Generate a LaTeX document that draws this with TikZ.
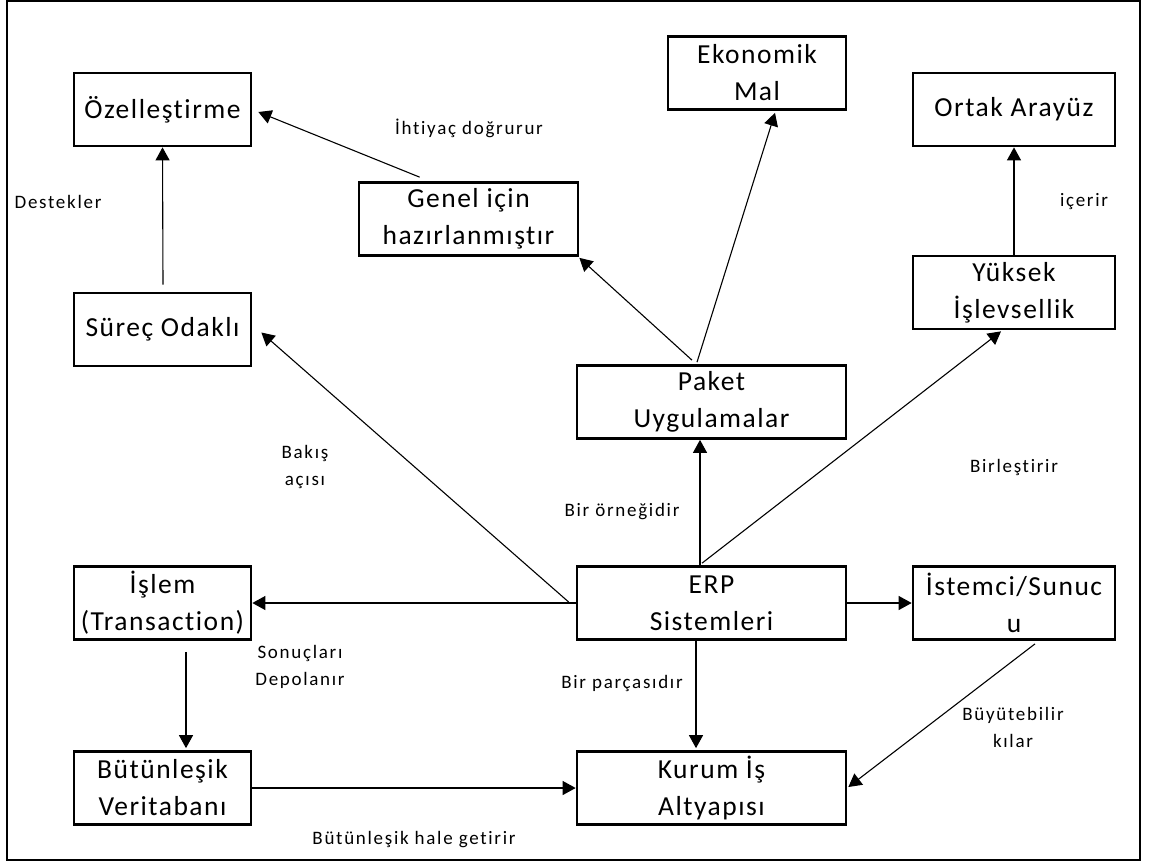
\documentclass[tikz,border=0pt]{standalone}
\usepackage{fontspec}
\setmainfont{Carlito}
\newfontfamily\boxfont[LetterSpace=5.5,Ligatures=NoCommon]{Carlito}
\newfontfamily\lblfont[LetterSpace=9,Ligatures=NoCommon]{Carlito}
\usetikzlibrary{arrows.meta,calc}

\begin{document}
\begin{tikzpicture}[x=1pt,y=-1pt,
  conceptbox/.style={draw, line width=2.7pt, align=center, inner sep=0pt,
    font=\boxfont\fontsize{27.5}{37}\selectfont, minimum height=73pt},
  rel/.style={line width=1.1pt, -{Triangle[length=13pt,width=14pt]}},
  lbl/.style={align=center, inner sep=0pt, font=\lblfont\fontsize{19}{27}\selectfont}]

\useasboundingbox (0,0) rectangle (1150,863);
\draw[line width=2.4pt] (7,1.2) rectangle (1140,860);

% concept boxes
\node[conceptbox, minimum width=177pt] (ozel)    at (162.5,109.5) {Özelleştirme};
\node[conceptbox, minimum width=177pt] (surec)   at (162.5,329.5) {Süreç Odaklı};
\node[conceptbox, minimum width=177pt] (islem)   at (162.5,603)   {İşlem\\(Transaction)};
\node[conceptbox, minimum width=177pt] (butun)   at (162.5,788)   {Bütünleşik\\Veritabanı};
\node[conceptbox, minimum width=219pt] (genel)   at (468.5,219)   {Genel için\\hazırlanmıştır};
\node[conceptbox, minimum width=178pt] (ekon)    at (757,73)      {Ekonomik\\Mal};
\node[conceptbox, minimum width=269pt] (paket)   at (711.5,402)   {Paket\\Uygulamalar};
\node[conceptbox, minimum width=269pt] (erp)     at (711.5,603)   {ERP\\Sistemleri};
\node[conceptbox, minimum width=269pt] (kurum)   at (711.5,788)   {Kurum İş\\Altyapısı};
\node[conceptbox, minimum width=202pt] (ortak)   at (1014,109.5)  {Ortak Arayüz};
\node[conceptbox, minimum width=202pt] (yuksek)  at (1014,292.5)  {Yüksek\\İşlevsellik};
\node[conceptbox, minimum width=202pt] (istemci) at (1014,603)    {İstemci/Sunuc\\u};

% relations
\draw[rel] ($(surec.north)+(0.5,-7)$) -- (ozel.south);
\draw[rel] ($(genel.north west)+(62,-4)$) -- ($(ozel.east)+(6,2.5)$);
\draw[rel] ($(paket.north)+(-19.5,-4)$) -- ($(genel.south east)+(0,1)$);
\draw[rel] ($(paket.north)+(-14.5,-2)$) -- ($(ekon.south)+(18,2)$);
\draw[rel] ($(erp.north)+(-11.5,0)$) -- ($(paket.south)+(-11.5,0)$);
\draw[rel] ($(erp.north)+(-9.5,-2)$) -- ($(yuksek.south)+(-13,1)$);
\draw[rel] ($(erp.west)+(-7,-1)$) -- ($(surec.east)+(9,3)$);
\draw[rel] (erp.west) -- (islem.east);
\draw[rel] ($(islem.south)+(23.5,11)$) -- ($(butun.north)+(23.5,-2)$);
\draw[rel] (butun.east) -- (kurum.west);
\draw[rel] ($(erp.south)+(-15.5,0)$) -- ($(kurum.north)+(-15.5,-2)$);
\draw[rel] (erp.east) -- (istemci.west);
\draw[rel] ($(istemci.south)+(21,3)$) -- ($(kurum.east)+(1,-1)$);
\draw[rel] (yuksek.north) -- (ortak.south);

% relation labels
\node[lbl] (l1)  at (58,202)    {Destekler};
\node[lbl] (l2)  at (469,128)   {İhtiyaç doğrurur};
\node[lbl] (l3)  at (1084,202)  {içerir};
\node[lbl] (l4)  at (305,467)   {Bakış\\açısı};
\node[lbl] (l5)  at (622,512)   {Bir örneğidir};
\node[lbl] (l6)  at (1014,467)  {Birleştirir};
\node[lbl] (l7)  at (300,667)   {Sonuçları\\Depolanır};
\node[lbl] (l8)  at (622,683)   {Bir parçasıdır};
\node[lbl] (l9)  at (1013,727)  {Büyütebilir\\kılar};
\node[lbl] (l10) at (414,840)   {Bütünleşik hale getirir};
\end{tikzpicture}
\end{document}
